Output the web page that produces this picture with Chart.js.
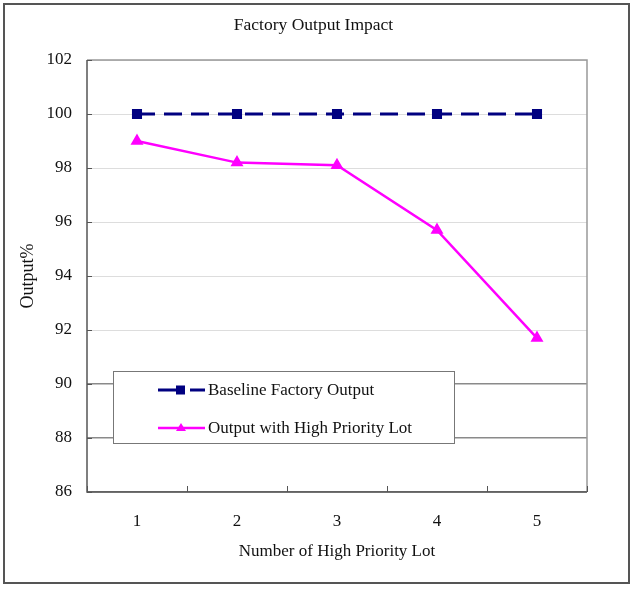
<!DOCTYPE html>
<html>
<head>
<meta charset="utf-8">
<script src="https://cdn.jsdelivr.net/npm/chart.js@4.4.1/dist/chart.umd.min.js"></script>
<style>
  html, body { margin: 0; padding: 0; background: #fff; }
  #wrap { width: 633px; height: 592px; }
</style>
</head>
<body>
<div id="wrap"><canvas id="factoryChart" width="633" height="592"></canvas></div>
<script>
const lotCounts = ["1", "2", "3", "4", "5"];
const baselineOutput = [100, 100, 100, 100, 100];
const highPriorityOutput = [99.0, 98.2, 98.1, 95.7, 91.7];
const yMin = 86;
const yMax = 102;
const yStep = 2;

const fontFamily = "'Liberation Serif', 'DejaVu Serif', serif";

// frame, plot border, inner tick marks and the boxed legend
const extras = {
    id: "extras",
    beforeDraw(chart) {
        const ctx = chart.ctx;
        ctx.save();
        ctx.fillStyle = "#fff";
        ctx.fillRect(0, 0, chart.width, chart.height);
        ctx.strokeStyle = "#555";
        ctx.lineWidth = 2;
        ctx.strokeRect(4, 4, 625, 579);
        ctx.restore();
    },
    afterDatasetsDraw(chart) {
        const ctx = chart.ctx;
        const a = chart.chartArea;
        const x = chart.scales.x;
        const y = chart.scales.y;
        ctx.save();
        // top and right border
        ctx.strokeStyle = "#999";
        ctx.lineWidth = 1.5;
        ctx.beginPath();
        ctx.moveTo(a.left, a.top);
        ctx.lineTo(a.right, a.top);
        ctx.lineTo(a.right, a.bottom);
        ctx.stroke();
        // left and bottom axis
        ctx.strokeStyle = "#555";
        ctx.beginPath();
        ctx.moveTo(a.left, a.top);
        ctx.lineTo(a.left, a.bottom);
        ctx.lineTo(a.right, a.bottom);
        ctx.stroke();
        // y ticks pointing inward
        ctx.lineWidth = 1;
        for (let v = yMin; v <= yMax; v += yStep) {
            const py = Math.round(y.getPixelForValue(v)) + 0.5;
            ctx.beginPath();
            ctx.moveTo(a.left, py);
            ctx.lineTo(a.left + 5, py);
            ctx.stroke();
        }
        // x ticks between categories pointing up
        for (let i = 0; i <= lotCounts.length; i++) {
            const px = Math.round(x.getPixelForValue(i - 0.5)) + 0.5;
            ctx.beginPath();
            ctx.moveTo(px, a.bottom);
            ctx.lineTo(px, a.bottom - 6);
            ctx.stroke();
        }

        // legend box
        const lx = 113, ly = 371, lw = 341, lh = 72;
        ctx.fillStyle = "#fff";
        ctx.fillRect(lx, ly, lw, lh);
        ctx.strokeStyle = "#777";
        ctx.lineWidth = 1;
        ctx.strokeRect(lx + 0.5, ly + 0.5, lw, lh);

        const ds = chart.data.datasets;
        const rows = [390, 428];
        ds.forEach((d, i) => {
            const ry = rows[i];
            ctx.strokeStyle = d.borderColor;
            ctx.lineWidth = d.borderWidth;
            ctx.beginPath();
            if (i === 0) {
                ctx.moveTo(158, ry); ctx.lineTo(176, ry);
                ctx.moveTo(190, ry); ctx.lineTo(205, ry);
            } else {
                ctx.moveTo(158, ry); ctx.lineTo(205, ry);
            }
            ctx.stroke();
            ctx.fillStyle = d.pointBackgroundColor;
            if (d.pointStyle === "rect") {
                ctx.fillRect(176, ry - 4.5, 9, 9);
            } else {
                ctx.beginPath();
                ctx.moveTo(181, ry - 5);
                ctx.lineTo(186, ry + 3);
                ctx.lineTo(176, ry + 3);
                ctx.closePath();
                ctx.fill();
            }
            ctx.fillStyle = "#111";
            ctx.font = "17px " + fontFamily;
            ctx.textBaseline = "middle";
            ctx.fillText(d.label, 208, ry + 1);
        });
        ctx.restore();
    }
};

const ctx = document.getElementById("factoryChart").getContext("2d");
new Chart(ctx, {
    type: "line",
    data: {
        labels: lotCounts,
        datasets: [
            {
                label: "Baseline Factory Output",
                data: baselineOutput,
                borderColor: "#000080",
                backgroundColor: "#000080",
                pointBackgroundColor: "#000080",
                pointBorderColor: "#000080",
                borderWidth: 3,
                borderDash: [18, 9],
                pointStyle: "rect",
                pointRadius: 5,
                tension: 0,
                fill: false
            },
            {
                label: "Output with High Priority Lot",
                data: highPriorityOutput,
                borderColor: "#FF00FF",
                backgroundColor: "#FF00FF",
                pointBackgroundColor: "#FF00FF",
                pointBorderColor: "#FF00FF",
                borderWidth: 2.5,
                pointStyle: "triangle",
                pointRadius: 5,
                tension: 0,
                fill: false
            }
        ]
    },
    options: {
        responsive: false,
        animation: false,
        layout: { padding: { left: 0, right: 6, top: 0, bottom: 0 } },
        plugins: {
            legend: { display: false },
            tooltip: { enabled: false },
            title: {
                display: true,
                text: "Factory Output Impact",
                color: "#111",
                font: { family: fontFamily, size: 17.5, weight: "normal" },
                padding: { top: 15, bottom: 24 }
            }
        },
        scales: {
            x: {
                offset: true,
                grid: { display: false, drawTicks: false },
                border: { display: false },
                ticks: {
                    color: "#111",
                    padding: 19,
                    font: { family: fontFamily, size: 17 }
                },
                title: {
                    display: true,
                    text: "Number of High Priority Lot",
                    color: "#111",
                    font: { family: fontFamily, size: 17 },
                    padding: { top: 0, bottom: 30 }
                },
                afterFit(scale) { scale.height = 100; }
            },
            y: {
                min: yMin,
                max: yMax,
                grid: {
                    drawTicks: false,
                    color: c => (c.tick && c.tick.value <= 90 ? "#8a8a8a" : "#dddddd"),
                    lineWidth: c => (c.tick && c.tick.value <= 90 ? 1.5 : 1)
                },
                border: { display: false },
                ticks: {
                    stepSize: yStep,
                    color: "#111",
                    padding: 15,
                    font: { family: fontFamily, size: 17 }
                },
                title: {
                    display: true,
                    text: "Output%",
                    color: "#111",
                    font: { family: fontFamily, size: 18 },
                    padding: { top: 17, bottom: 0 }
                },
                afterFit(scale) { scale.width = 87; }
            },
            // empty right-hand gutter so the title centres on the whole frame
            yRight: {
                position: "right",
                display: true,
                grid: { display: false, drawTicks: false },
                border: { display: false },
                ticks: { display: false },
                afterFit(scale) { scale.width = 40; }
            }
        }
    },
    plugins: [extras]
});
</script>
</body>
</html>
